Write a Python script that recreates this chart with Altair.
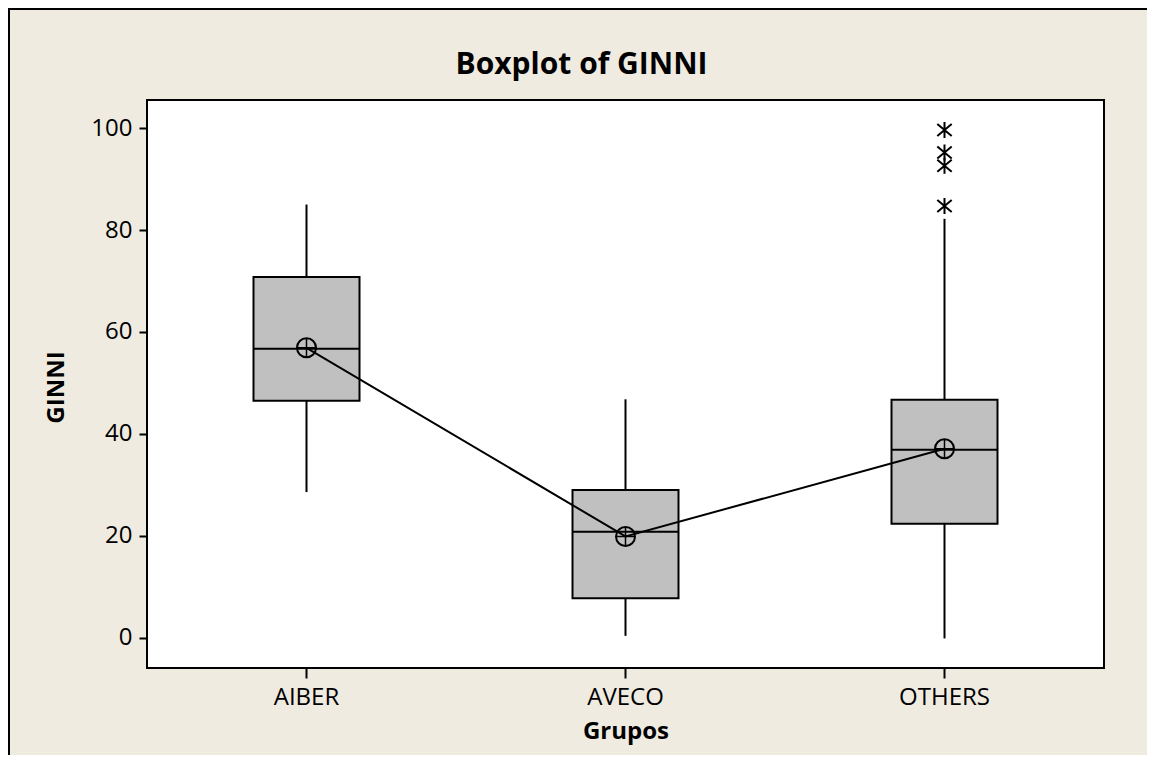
import altair as alt
import pandas as pd

# ---- data ----
groups = ["AIBER", "AVECO", "OTHERS"]
q1 = [46.5, 7.8, 22.4]
median = [56.7, 20.8, 36.9]
q3 = [70.8, 29.0, 46.7]
whisker_low = [28.6, 0.4, -0.1]
whisker_high = [85.0, 46.8, 82.2]
means = [56.9, 19.9, 37.1]
outlier_group = ["OTHERS", "OTHERS", "OTHERS", "OTHERS"]
outlier_values = [99.6, 95.2, 92.6, 84.7]
y_ticks = [0, 20, 40, 60, 80, 100]
title_text = ["Boxplot of GINNI"]

BG = "#EFEBE0"
FONT = "Open Sans"

box_df = pd.DataFrame({
    "group": groups, "q1": q1, "median": median, "q3": q3,
    "lo": whisker_low, "hi": whisker_high, "mean": means,
})
out_df = pd.DataFrame({"group": outlier_group, "value": outlier_values})
one = pd.DataFrame({"a": [0]})
title_df = pd.DataFrame({"t": title_text})

x_enc = alt.X(
    "group:N",
    sort=groups,
    scale=alt.Scale(paddingInner=0, paddingOuter=0),
    axis=alt.Axis(
        title="Grupos", labelAngle=0, labelFontSize=24, labelFont=FONT,
        labelColor="black", tickSize=10, tickWidth=2, tickColor="black",
        labelPadding=7, domain=False,
        titleFont=FONT, titleFontSize=24, titleFontWeight="bold",
        titleColor="black", titleBaseline="alphabetic", titleY=70,
    ),
)
y_scale = alt.Scale(domain=[-5.9, 105.5], nice=False, zero=False)
y_axis = alt.Axis(
    title="GINNI", values=y_ticks, grid=False, domain=False,
    labelFontSize=24, labelFont=FONT, labelColor="black",
    tickSize=8, tickWidth=2, tickColor="black", labelPadding=7,
    titleFont=FONT, titleFontSize=24, titleFontWeight="bold",
    titleColor="black", titleAngle=270, titleBaseline="alphabetic",
    titleX=-84, titleY=287, titleAlign="center",
)
xg = alt.X("group:N", sort=groups)

base = alt.Chart(box_df)

boxes = base.mark_bar(size=106, fill="#C0C0C0", stroke="black", strokeWidth=2,
                      opacity=1).encode(
    x=x_enc,
    y=alt.Y("q1:Q", scale=y_scale, axis=y_axis),
    y2="q3:Q",
)
whisk_up = base.mark_rule(color="black", strokeWidth=2).encode(x=xg, y="q3:Q", y2="hi:Q")
whisk_down = base.mark_rule(color="black", strokeWidth=2).encode(x=xg, y="lo:Q", y2="q1:Q")
med = base.mark_tick(size=106, thickness=2, color="black", opacity=1,
                     orient="horizontal").encode(x=xg, y="median:Q")
mean_line = base.mark_line(color="black", strokeWidth=2).encode(x=xg, y="mean:Q")
mean_circle = base.mark_point(shape="circle", size=361, filled=False,
                              color="black", strokeWidth=2, opacity=1).encode(x=xg, y="mean:Q")
mean_cross = base.mark_point(shape="M-1,0L1,0M0,-1L0,1", size=361, filled=False,
                             color="black", strokeWidth=1.5, opacity=1).encode(x=xg, y="mean:Q")
outliers = alt.Chart(out_df).mark_point(
    shape="M0,-1L0,1M-0.9,-0.75L0.9,0.75M-0.9,0.75L0.9,-0.75",
    size=256, filled=False, color="black", strokeWidth=2, opacity=1,
).encode(x=xg, y="value:Q")

title_mark = alt.Chart(title_df).mark_text(
    font=FONT, fontSize=30, fontWeight="bold", color="black",
    align="center", baseline="alphabetic",
).encode(x=alt.value(434.5), y=alt.value(-26), text="t:N")

frame_left = alt.Chart(one).mark_rule(color="black", strokeWidth=2).encode(
    x=alt.value(-138), y=alt.value(-92), y2=alt.value(700))
frame_top = alt.Chart(one).mark_rule(color="black", strokeWidth=2).encode(
    x=alt.value(-139), x2=alt.value(1050), y=alt.value(-91))

chart = alt.layer(
    boxes, whisk_up, whisk_down, med, mean_line, mean_circle, mean_cross,
    outliers, title_mark, frame_left, frame_top,
).properties(
    width=957,
    height=568,
    padding={"left": 139, "top": 92, "right": 43, "bottom": 87},
    autosize=alt.AutoSizeParams(type="none"),
).configure(
    background=BG,
).configure_view(
    fill="white", stroke="black", strokeWidth=2,
)

chart.save("out.html", embed_options={"renderer": "svg", "actions": False})
